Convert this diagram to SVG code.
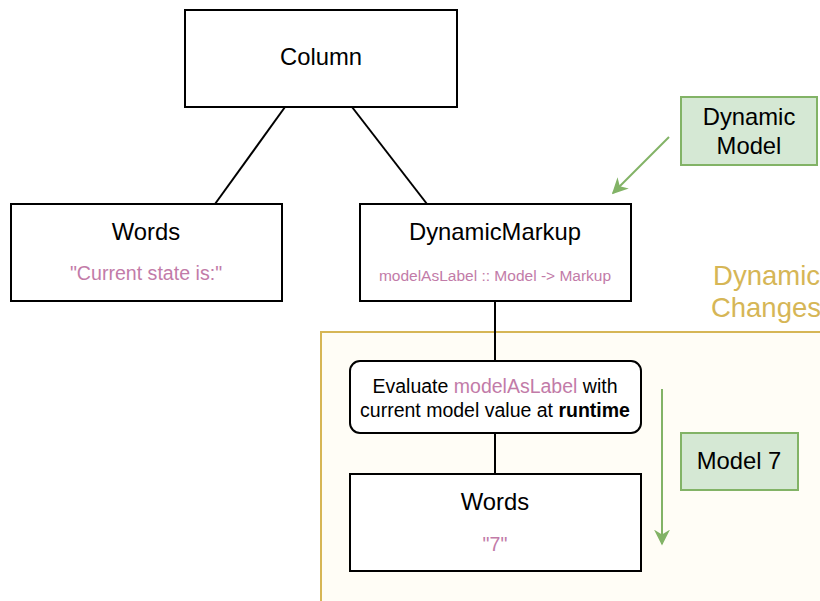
<svg xmlns="http://www.w3.org/2000/svg" width="820" height="601" viewBox="0 0 820 601">
  <style>
    .box { fill: #ffffff; stroke: #000000; stroke-width: 2; }
    .green { fill: #d5e8d4; stroke: #82b366; stroke-width: 2; }
    .t { font-family: "Liberation Sans", Arial, sans-serif; fill: #000000; text-anchor: middle; }
    .pink { fill: #c27ba8; }
    .link { stroke: #000000; stroke-width: 2; fill: none; }
    .garrow { stroke: #82b366; stroke-width: 2; fill: none; }
  </style>
  <defs>
    <marker id="gHead" viewBox="0 0 10 10" refX="9" refY="5" markerWidth="16" markerHeight="16" markerUnits="userSpaceOnUse" orient="auto">
      <path d="M0,0 L10,5 L0,10 L3,5 Z" fill="#82b366"/>
    </marker>
  </defs>
  <rect width="820" height="601" fill="#ffffff"/>

  <!-- container for the runtime part -->
  <g id="dynamic-changes">
    <rect x="321" y="332" width="510" height="280" fill="#fffdf6" stroke="#d6b656" stroke-width="2"/>
    <text class="t" x="820" y="285" font-size="27.5" style="text-anchor:end;fill:#d6b656">Dynamic</text>
    <text class="t" x="821" y="317" font-size="27.5" style="text-anchor:end;fill:#d6b656">Changes</text>
  </g>

  <g id="connectors">
    <line class="link" x1="285" y1="107" x2="215" y2="204"/>
    <line class="link" x1="352" y1="107" x2="427" y2="204"/>
    <line class="link" x1="495" y1="301" x2="495" y2="361"/>
    <line class="link" x1="495" y1="433" x2="495" y2="474"/>
    <line class="garrow" x1="669" y1="137" x2="613" y2="193" marker-end="url(#gHead)"/>
    <line class="garrow" x1="662" y1="389" x2="662" y2="544" marker-end="url(#gHead)"/>
  </g>

  <g id="column">
    <rect class="box" x="185" y="10" width="272" height="97"/>
    <text class="t" x="321" y="65" font-size="23.8">Column</text>
  </g>

  <g id="words-static">
    <rect class="box" x="11" y="204" width="271" height="97"/>
    <text class="t" x="146" y="240" font-size="23.8">Words</text>
    <text class="t pink" x="146" y="280" font-size="19.6">"Current state is:"</text>
  </g>

  <g id="dynamic-markup">
    <rect class="box" x="360" y="204" width="271" height="97"/>
    <text class="t" x="495" y="240" font-size="23.8">DynamicMarkup</text>
    <text class="t pink" x="495" y="281" font-size="15.5">modelAsLabel :: Model -&gt; Markup</text>
  </g>

  <g id="dynamic-model">
    <rect class="green" x="681" y="97" width="136" height="68"/>
    <text class="t" x="749" y="125" font-size="23.8">Dynamic</text>
    <text class="t" x="749" y="154" font-size="23.8">Model</text>
  </g>

  <g id="evaluate">
    <rect class="box" x="350" y="361" width="291" height="72" rx="10" ry="10"/>
    <text class="t" x="495" y="393" font-size="19.5">Evaluate <tspan class="pink">modelAsLabel</tspan> with</text>
    <text class="t" x="495" y="417" font-size="19.5">current model value at <tspan font-weight="bold">runtime</tspan></text>
  </g>

  <g id="model-7">
    <rect class="green" x="681" y="433" width="117" height="57"/>
    <text class="t" x="739" y="469" font-size="23.8">Model 7</text>
  </g>

  <g id="words-dynamic">
    <rect class="box" x="350" y="474" width="291" height="97"/>
    <text class="t" x="495" y="510" font-size="23.8">Words</text>
    <text class="t pink" x="495" y="551" font-size="19.6">"7"</text>
  </g>
</svg>
